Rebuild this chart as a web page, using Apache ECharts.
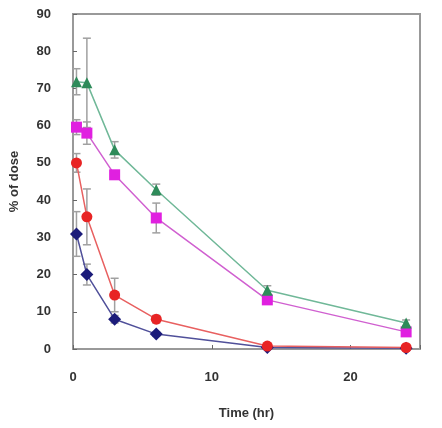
<!DOCTYPE html>
<html><head><meta charset="utf-8">
<script src="https://cdn.jsdelivr.net/npm/echarts@6/dist/echarts.min.js"></script>
<style>html,body{margin:0;padding:0;background:#fff}#c{width:442px;height:428px}</style>
</head><body><div id="c"></div>
<script>
const times = [0.25, 1, 3, 6, 14, 24];
const green = [71.8, 71.5, 53.5, 42.8, 15.8, 7.0];
const greenErr = [3.5, 12.0, 2.2, 1.5, 1.2, 0.8];
const magenta = [59.6, 58.0, 46.8, 35.2, 13.2, 4.6];
const magentaErr = [2.0, 3.0, 1.0, 4.0, 1.0, 0.8];
const red = [50.0, 35.5, 14.5, 8.0, 0.8, 0.4];
const redErr = [2.5, 7.5, 4.5, 1.0, 0.3, 0.2];
const blue = [30.9, 20.0, 8.0, 4.0, 0.4, 0.2];
const blueErr = [6.0, 2.8, 1.0, 0.6, 0.2, 0.1];
const xTicks = [0, 10, 20];
const yTicks = [0, 10, 20, 30, 40, 50, 60, 70, 80, 90];

function pts(vals){ return times.map((t,i)=>[t, vals[i]]); }
function errData(vals, errs){ return times.map((t,i)=>[t, vals[i]-errs[i], vals[i]+errs[i]]); }
function errSeries(vals, errs){
  return {
    type:'custom', data: errData(vals, errs), z: 1, silent:true,
    renderItem: function(params, api){
      const x = api.value(0), lo = api.value(1), hi = api.value(2);
      const p1 = api.coord([x, lo]), p2 = api.coord([x, hi]);
      const w = 4;
      const st = {stroke:'#a0a0a0', lineWidth:1.5};
      return {type:'group', children:[
        {type:'line', shape:{x1:p1[0],y1:p1[1],x2:p2[0],y2:p2[1]}, style:st},
        {type:'line', shape:{x1:p1[0]-w,y1:p1[1],x2:p1[0]+w,y2:p1[1]}, style:st},
        {type:'line', shape:{x1:p2[0]-w,y1:p2[1],x2:p2[0]+w,y2:p2[1]}, style:st}
      ]};
    }
  };
}
function lineSeries(vals, color, lineColor, symbol, size){
  return {type:'line', data: pts(vals), symbol: symbol, symbolSize: size, z: 3,
    itemStyle:{color: color}, lineStyle:{color: lineColor, width:1.5}};
}
const chart = echarts.init(document.getElementById('c'));
chart.setOption({
  animation:false,
  grid:{left:73, right:22, top:14, bottom:79, show:true, borderColor:'#999', borderWidth:2},
  xAxis:{type:'value', min:0, max:25, interval:10,
    name:'Time (hr)', nameLocation:'middle', nameGap:58,
    nameTextStyle:{fontFamily:'Liberation Sans', fontWeight:'bold', fontSize:13, color:'#333'},
    axisLine:{lineStyle:{color:'#999', width:2}},
    axisTick:{inside:true, length:4, lineStyle:{color:'#666'}},
    axisLabel:{margin:22, fontFamily:'Liberation Sans', fontWeight:'bold', fontSize:13, color:'#333',
      formatter: v => xTicks.includes(v) ? String(v) : ''},
    splitLine:{show:false}},
  yAxis:{type:'value', min:0, max:90, interval:10,
    name:'% of dose', nameLocation:'middle', nameGap:52, nameRotate:90,
    nameTextStyle:{fontFamily:'Liberation Sans', fontWeight:'bold', fontSize:13, color:'#333'},
    axisLine:{show:true, lineStyle:{color:'#999', width:2}},
    axisTick:{show:true, inside:true, length:4, lineStyle:{color:'#666'}},
    axisLabel:{margin:22, fontFamily:'Liberation Sans', fontWeight:'bold', fontSize:13, color:'#333',
      formatter: v => yTicks.includes(v) ? String(v) : ''},
    splitLine:{show:false}},
  series:[
    errSeries(green, greenErr), errSeries(magenta, magentaErr),
    errSeries(red, redErr), errSeries(blue, blueErr),
    lineSeries(blue, '#1c1c7a', '#50509a', 'diamond', 13),
    lineSeries(red, '#e82424', '#e86060', 'circle', 11),
    lineSeries(magenta, '#e020e0', '#d060d0', 'rect', 11),
    lineSeries(green, '#2e8b5a', '#70b898', 'triangle', 11)
  ]
});
</script></body></html>
